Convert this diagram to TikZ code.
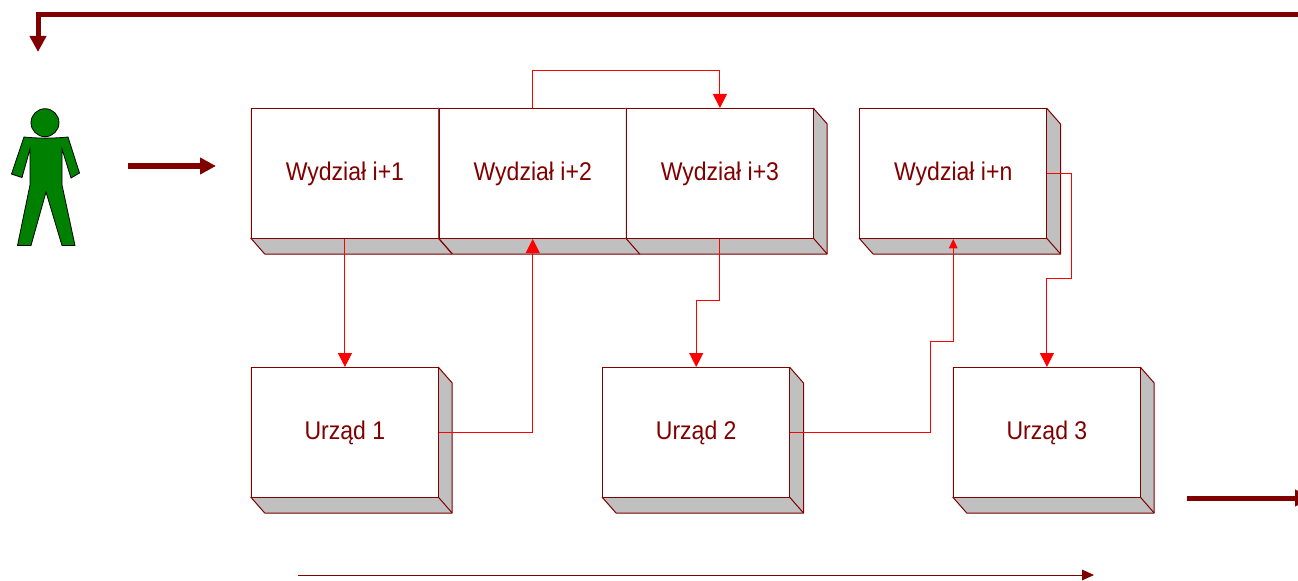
\documentclass[tikz,border=0pt]{standalone}
\usepackage{fontspec}
\setmainfont[FakeStretch=0.9]{Liberation Sans}
\usetikzlibrary{arrows.meta}
\definecolor{dred}{HTML}{800000}
\definecolor{sidegray}{HTML}{C0C0C0}
\tikzset{
  x=0.75pt,y=-0.75pt,
  front/.style={draw=dred,line width=0.75pt,fill=white,text=dred,font=\fontsize{19.2}{22}\selectfont,
    minimum width=140.6pt,minimum height=97.5pt,inner sep=0pt,anchor=north west},
  side/.style={draw=dred,line width=0.75pt,fill=sidegray,line join=round},
  link/.style={draw=red,line width=0.75pt,-{Triangle[length=10.5pt,width=10.5pt]}},
  smalllink/.style={draw=red,line width=0.75pt,-{Triangle[length=7pt,width=6.5pt]}},
  flow/.style={draw=dred,line width=3.75pt,-{Triangle[length=12pt,width=12pt]}},
  thinflow/.style={draw=dred,line width=0.75pt,-{Triangle[length=9pt,width=8pt]}},
  person/.style={draw=black,line width=0.6pt,fill=black!0!green!50!black},
}
\newcommand{\solidbox}[4]{%
  \fill[sidegray] (#2,#3) -- (#2+187.5,#3) -- (#2+187.5+14,#3+16) -- (#2+187.5+14,#3+146) -- (#2+14,#3+146) -- (#2,#3+130) -- cycle;
  \draw[side] (#2+187.5,#3) -- (#2+201.5,#3+16) -- (#2+201.5,#3+146) -- (#2+14,#3+146) -- (#2,#3+130);
  \draw[side] (#2+187.5,#3+130) -- (#2+201.5,#3+146);
  \node[front] (#1) at (#2,#3) {#4};
}
\begin{document}
\begin{tikzpicture}
\useasboundingbox (0,0) rectangle (1298,581);
\clip (0,0) rectangle (1298,581);
% person
\draw[person] (24,137) .. controls (38,138.5) and (54,138.5) .. (68,137) -- (79.5,173) -- (71,178) -- (62,149) -- (62,185) -- (75,245.5) -- (62,245.5) -- (46,192) -- (31,245.5) -- (17.5,245.5) -- (30,185) -- (30,149) -- (22,177.5) -- (11.5,174) -- cycle;
\draw[person] (45,122.7) circle[radius=14];
% boxes
\solidbox{w1}{250.7}{108}{Wydział i+1}
\solidbox{w2}{438.5}{108}{Wydział i+2}
\solidbox{w3}{625.7}{108}{Wydział i+3}
\solidbox{wn}{859}{108}{Wydział i+n}
\solidbox{u1}{250.7}{367}{Urząd 1}
\solidbox{u2}{602}{367}{Urząd 2}
\solidbox{u3}{952.7}{367}{Urząd 3}
% connectors
\draw[link] (w1.south) -- (u1.north);
\draw[link] (u1.east) -| (w2.south);
\draw[link] (w2.north) -- ++(0,-37) -| (w3.north);
\draw[link] (w3.south) -- ++(0,61.5) -| (u2.north);
\draw[smalllink] (u2.east) -- ++(139.7,0) -- ++(0,-91) -| (wn.south);
\draw[link] (wn.east) -- ++(24,0) -- ++(0,105) -| (u3.north);
% flow arrows
\coordinate (topR) at (1300,15);
\coordinate (topL) at (38,15);
\coordinate (topE) at (38,52);
\coordinate (midA) at (128,166);
\coordinate (midB) at (216,166);
\coordinate (endA) at (1187,498);
\coordinate (endB) at (1311,498);
\coordinate (botA) at (298,575);
\coordinate (botB) at (1094,575);
\draw[flow] (topR) -- (topL) -- (topE);
\draw[flow] (midA) -- (midB);
\draw[flow] (endA) -- (endB);
\draw[thinflow] (botA) -- (botB);
\end{tikzpicture}
\end{document}
